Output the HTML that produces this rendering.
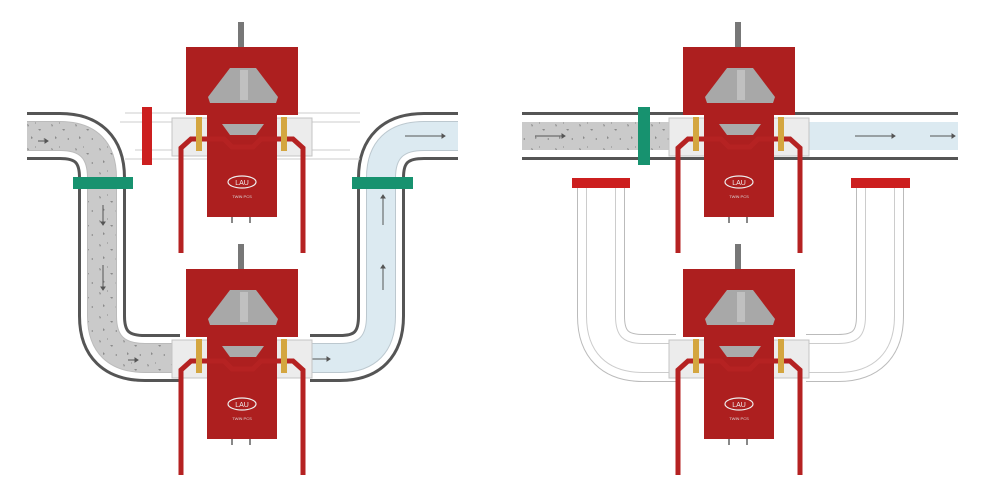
<!DOCTYPE html>
<html><head><meta charset="utf-8"><style>html,body{margin:0;padding:0;background:#fff;width:1000px;height:500px;overflow:hidden}</style></head>
<body>
<svg width="1000" height="500" viewBox="0 0 1000 500" xmlns="http://www.w3.org/2000/svg">
<defs>
<pattern id="conc" width="24" height="24" patternUnits="userSpaceOnUse">
<rect width="24" height="24" fill="#cacaca"/>
<path d="M3 4l2 1-1 2zM14 9l3 0-1 2zM7 16l2 2-2 1zM19 19l2-1 0 2zM11 2l1 1-1 1z" fill="#8a8a8a"/>
</pattern>
<g id="valve">
<rect x="238" y="22" width="6" height="28" fill="#777"/>
<rect x="172" y="118" width="140" height="38" fill="#ececec" stroke="#c4c4c4"/>
<rect x="186" y="47" width="112" height="68" fill="#ad1f1f"/>
<polygon points="230,68 256,68 278,97 276,103 210,103 208,97" fill="#a8a8a8"/>
<rect x="240" y="70" width="8" height="30" fill="#c0c0c0"/>
<rect x="207" y="112" width="70" height="105" fill="#ad1f1f"/>
<polygon points="222,124 264,124 256,135 230,135" fill="#aaa"/>
<path d="M181,253 V148 L191,139 H224 L232,147 H253 L261,139 H293 L303,148 V253" fill="none" stroke="#b52222" stroke-width="5"/>
<rect x="196" y="117" width="6" height="34" fill="#d4a640"/>
<rect x="281" y="117" width="6" height="34" fill="#d4a640"/>
<ellipse cx="242" cy="182" rx="14" ry="6" fill="none" stroke="#eee" stroke-width="1.2"/>
<text x="242" y="185" font-family="Liberation Sans, sans-serif" font-size="7" fill="#eee" text-anchor="middle">LAU</text>
<text x="242" y="198" font-family="Liberation Sans, sans-serif" font-size="4" fill="#ddd" text-anchor="middle">TWIN PCS</text>
<rect x="231" y="217" width="2" height="6" fill="#888"/>
<rect x="249" y="217" width="2" height="6" fill="#888"/>
</g>
</defs>

<!-- LEFT DIAGRAM pipes -->
<g fill="none">
<path d="M27,136 H60 Q102,136 102,178 V316 Q102,358 145,358 H180" stroke="#555" stroke-width="48"/>
<path d="M27,136 H60 Q102,136 102,178 V316 Q102,358 145,358 H180" stroke="#fff" stroke-width="42"/>
<path d="M27,136 H60 Q102,136 102,178 V316 Q102,358 145,358 H180" stroke="#bbb" stroke-width="30"/>
<path d="M27,136 H60 Q102,136 102,178 V316 Q102,358 145,358 H180" stroke="url(#conc)" stroke-width="28"/>
<path d="M310,358 H340 Q381,358 381,316 V178 Q381,136 424,136 H458" stroke="#555" stroke-width="48"/>
<path d="M310,358 H340 Q381,358 381,316 V178 Q381,136 424,136 H458" stroke="#fff" stroke-width="42"/>
<path d="M310,358 H340 Q381,358 381,316 V178 Q381,136 424,136 H458" stroke="#bcc8cf" stroke-width="30"/>
<path d="M310,358 H340 Q381,358 381,316 V178 Q381,136 424,136 H458" stroke="#dceaf1" stroke-width="28"/>
</g>
<g stroke="#ccc" stroke-width="1">
<line x1="125" y1="113" x2="360" y2="113"/><line x1="120" y1="122" x2="360" y2="122"/>
<line x1="135" y1="150" x2="350" y2="150"/><line x1="125" y1="159" x2="360" y2="159"/>
</g>
<g stroke="#555" stroke-width="1" fill="#555">
<path d="M38,141 H48"/><path d="M48,141 l-3,-2 v4z"/>
<path d="M103,205 V225"/><path d="M103,225 l-2,-3 h4z"/>
<path d="M103,265 V290"/><path d="M103,290 l-2,-3 h4z"/>
<path d="M383,290 V265"/><path d="M383,265 l-2,3 h4z"/>
<path d="M383,225 V195"/><path d="M383,195 l-2,3 h4z"/>
<path d="M405,136 H445"/><path d="M445,136 l-3,-2 v4z"/>
<path d="M310,359 H330"/><path d="M330,359 l-3,-2 v4z"/>
<path d="M128,360 H138"/><path d="M138,360 l-3,-2 v4z"/>
</g>
<rect x="142" y="107" width="10" height="58" fill="#cc1f1f"/>
<rect x="73" y="177" width="60" height="12" fill="#17926f"/>
<rect x="352" y="177" width="61" height="12" fill="#17926f"/>

<!-- RIGHT DIAGRAM pipes -->
<g fill="none">
<path d="M522,136 H958" stroke="#555" stroke-width="48"/>
<path d="M522,136 H958" stroke="#fff" stroke-width="42"/>
<path d="M522,136 H672" stroke="url(#conc)" stroke-width="28"/>
<path d="M808,136 H958" stroke="#dceaf1" stroke-width="28"/>
<path d="M601,182 V316 Q601,358 643,358 H676" stroke="#bbb" stroke-width="48"/>
<path d="M601,182 V316 Q601,358 643,358 H676" stroke="#fff" stroke-width="46"/>
<path d="M601,182 V316 Q601,358 643,358 H676" stroke="#ccc" stroke-width="30"/>
<path d="M601,182 V316 Q601,358 643,358 H676" stroke="#fff" stroke-width="28"/>
<path d="M806,358 H838 Q880,358 880,316 V182" stroke="#bbb" stroke-width="48"/>
<path d="M806,358 H838 Q880,358 880,316 V182" stroke="#fff" stroke-width="46"/>
<path d="M806,358 H838 Q880,358 880,316 V182" stroke="#ccc" stroke-width="30"/>
<path d="M806,358 H838 Q880,358 880,316 V182" stroke="#fff" stroke-width="28"/>
</g>
<g stroke="#555" stroke-width="1" fill="#555">
<path d="M535,136 H565"/><path d="M565,136 l-3,-2 v4z"/>
<path d="M855,136 H895"/><path d="M895,136 l-3,-2 v4z"/>
<path d="M930,136 H955"/><path d="M955,136 l-3,-2 v4z"/>
</g>

<use href="#valve"/>
<use href="#valve" transform="translate(0,222)"/>
<use href="#valve" transform="translate(497,0)"/>
<use href="#valve" transform="translate(497,222)"/>

<rect x="638" y="107" width="12" height="58" fill="#17926f"/>
<rect x="572" y="178" width="58" height="10" fill="#cc1f1f"/>
<rect x="851" y="178" width="59" height="10" fill="#cc1f1f"/>
</svg>
</body></html>
